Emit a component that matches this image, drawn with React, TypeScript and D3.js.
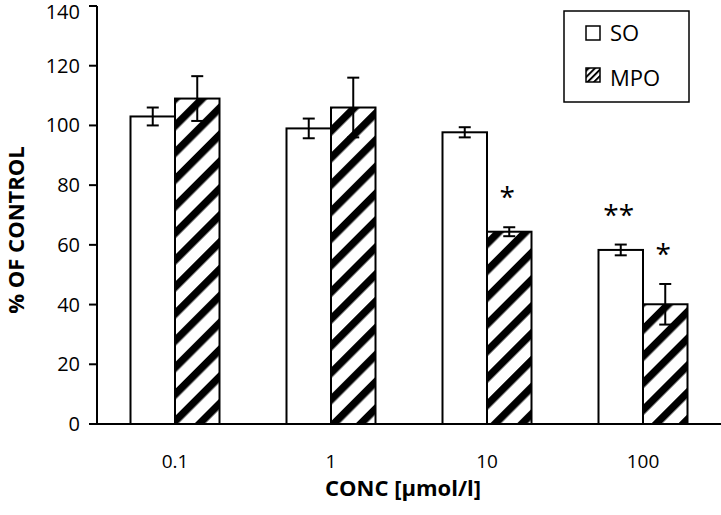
import React from "react";
import * as d3 from "d3";

const concentrations = ["0.1", "1", "10", "100"];
const seriesNames = ["SO", "MPO"];
const soValues = [103, 99, 97.7, 58.3];
const soErrors = [3, 3.3, 1.7, 1.8];
const mpoValues = [109, 106, 64.4, 40.1];
const mpoErrors = [7.5, 10, 1.5, 6.8];
const yTicks = [0, 20, 40, 60, 80, 100, 120, 140];
const annotations = [
  { group: "10", series: "MPO", label: "*" },
  { group: "100", series: "SO", label: "**" },
  { group: "100", series: "MPO", label: "*" },
];

const W = 721;
const H = 515;
const FONT = "'Open Sans', 'Noto Sans', sans-serif";

export default function App() {
  const left = 97;
  const right = 721;
  const top = 6;
  const bottom = 424;
  const x0 = d3.scaleBand<string>().domain(concentrations).range([left, right]).padding(0);
  const pairW = 89;
  const x1 = d3
    .scaleBand<string>()
    .domain(seriesNames)
    .range([(x0.bandwidth() - pairW) / 2, (x0.bandwidth() + pairW) / 2]);
  const y = d3.scaleLinear().domain([0, 140]).range([bottom, top]);

  const rows = concentrations.flatMap((c, i) => [
    { group: c, series: "SO", value: soValues[i], err: soErrors[i] },
    { group: c, series: "MPO", value: mpoValues[i], err: mpoErrors[i] },
  ]);

  return (
    <svg
      width={W}
      height={H}
      style={{ position: "absolute", left: 0, top: 0, background: "#fff" }}
      fontFamily={FONT}
    >
      <defs>
        <pattern
          id="hatch"
          patternUnits="userSpaceOnUse"
          width={19}
          height={19}
          patternTransform="rotate(45)"
        >
          <rect width={19} height={19} fill="#fff" />
          <rect x={0} y={0} width={7.5} height={19} fill="#000" />
        </pattern>
        <pattern
          id="hatchSmall"
          patternUnits="userSpaceOnUse"
          width={4.5}
          height={4.5}
          patternTransform="rotate(45)"
        >
          <rect width={4.5} height={4.5} fill="#fff" />
          <rect x={0} y={0} width={2} height={4.5} fill="#000" />
        </pattern>
      </defs>

      {/* bars */}
      {rows.map((r) => {
        const bx = (x0(r.group) as number) + (x1(r.series) as number);
        const bw = x1.bandwidth();
        return (
          <rect
            key={r.group + r.series}
            x={bx}
            y={y(r.value)}
            width={bw}
            height={bottom - y(r.value)}
            fill={r.series === "SO" ? "#fff" : "url(#hatch)"}
            stroke="#000"
            strokeWidth={2}
          />
        );
      })}

      {/* error bars */}
      {rows.map((r) => {
        const cx = (x0(r.group) as number) + (x1(r.series) as number) + x1.bandwidth() / 2;
        const y1 = y(r.value + r.err);
        const y2 = y(r.value - r.err);
        return (
          <g key={"e" + r.group + r.series} stroke="#000" strokeWidth={2}>
            <line x1={cx} x2={cx} y1={y1} y2={y2} />
            <line x1={cx - 6} x2={cx + 6} y1={y1} y2={y1} />
            <line x1={cx - 6} x2={cx + 6} y1={y2} y2={y2} />
          </g>
        );
      })}

      {/* annotations */}
      {annotations.map((a) => {
        const r = rows.find((d) => d.group === a.group && d.series === a.series)!;
        const cx = (x0(r.group) as number) + (x1(r.series) as number) + x1.bandwidth() / 2;
        const cy = y(r.value + r.err) - 35;
        return (
          <text
            key={"a" + a.group + a.series}
            x={cx - 2}
            y={cy + 15}
            textAnchor="middle"
            fontSize={28}
            fill="#000"
          >
            {a.label}
          </text>
        );
      })}

      {/* axes */}
      <line x1={left} x2={left} y1={top} y2={bottom} stroke="#000" strokeWidth={2} />
      <line x1={left} x2={right} y1={bottom} y2={bottom} stroke="#000" strokeWidth={2} />
      {yTicks.map((t) => (
        <g key={"t" + t}>
          <line x1={left - 8} x2={left} y1={y(t)} y2={y(t)} stroke="#000" strokeWidth={2} />
          <text x={80} y={Math.max(y(t), 12)} dy="0.35em" textAnchor="end" fontSize={20} fill="#000">
            {t}
          </text>
        </g>
      ))}
      {concentrations.map((c) => (
        <text
          key={"x" + c}
          x={(x0(c) as number) + x0.bandwidth() / 2}
          y={461}
          dy="0.35em"
          textAnchor="middle"
          fontSize={19}
          fill="#000"
        >
          {c}
        </text>
      ))}

      {/* axis titles */}
      <text
        x={403}
        y={488}
        dy="0.35em"
        textAnchor="middle"
        fontSize={22}
        fontWeight="bold"
        fill="#000"
      >
        CONC [µmol/l]
      </text>
      <text
        transform={`translate(16, 230) rotate(-90)`}
        dy="0.35em"
        textAnchor="middle"
        fontSize={22}
        fontWeight="bold"
        fill="#000"
      >
        % OF CONTROL
      </text>

      {/* legend */}
      <rect x={564} y={11} width={125} height={91} fill="#fff" stroke="#000" strokeWidth={1.5} />
      <rect x={586} y={26} width={14} height={14} fill="#fff" stroke="#000" strokeWidth={1.5} />
      <text x={610} y={33} dy="0.35em" fontSize={22} fill="#000">
        {seriesNames[0]}
      </text>
      <rect x={586} y={68} width={14} height={14} fill="url(#hatchSmall)" stroke="#000" strokeWidth={1.5} />
      <text x={610} y={78} dy="0.35em" fontSize={22} fill="#000">
        {seriesNames[1]}
      </text>
    </svg>
  );
}
